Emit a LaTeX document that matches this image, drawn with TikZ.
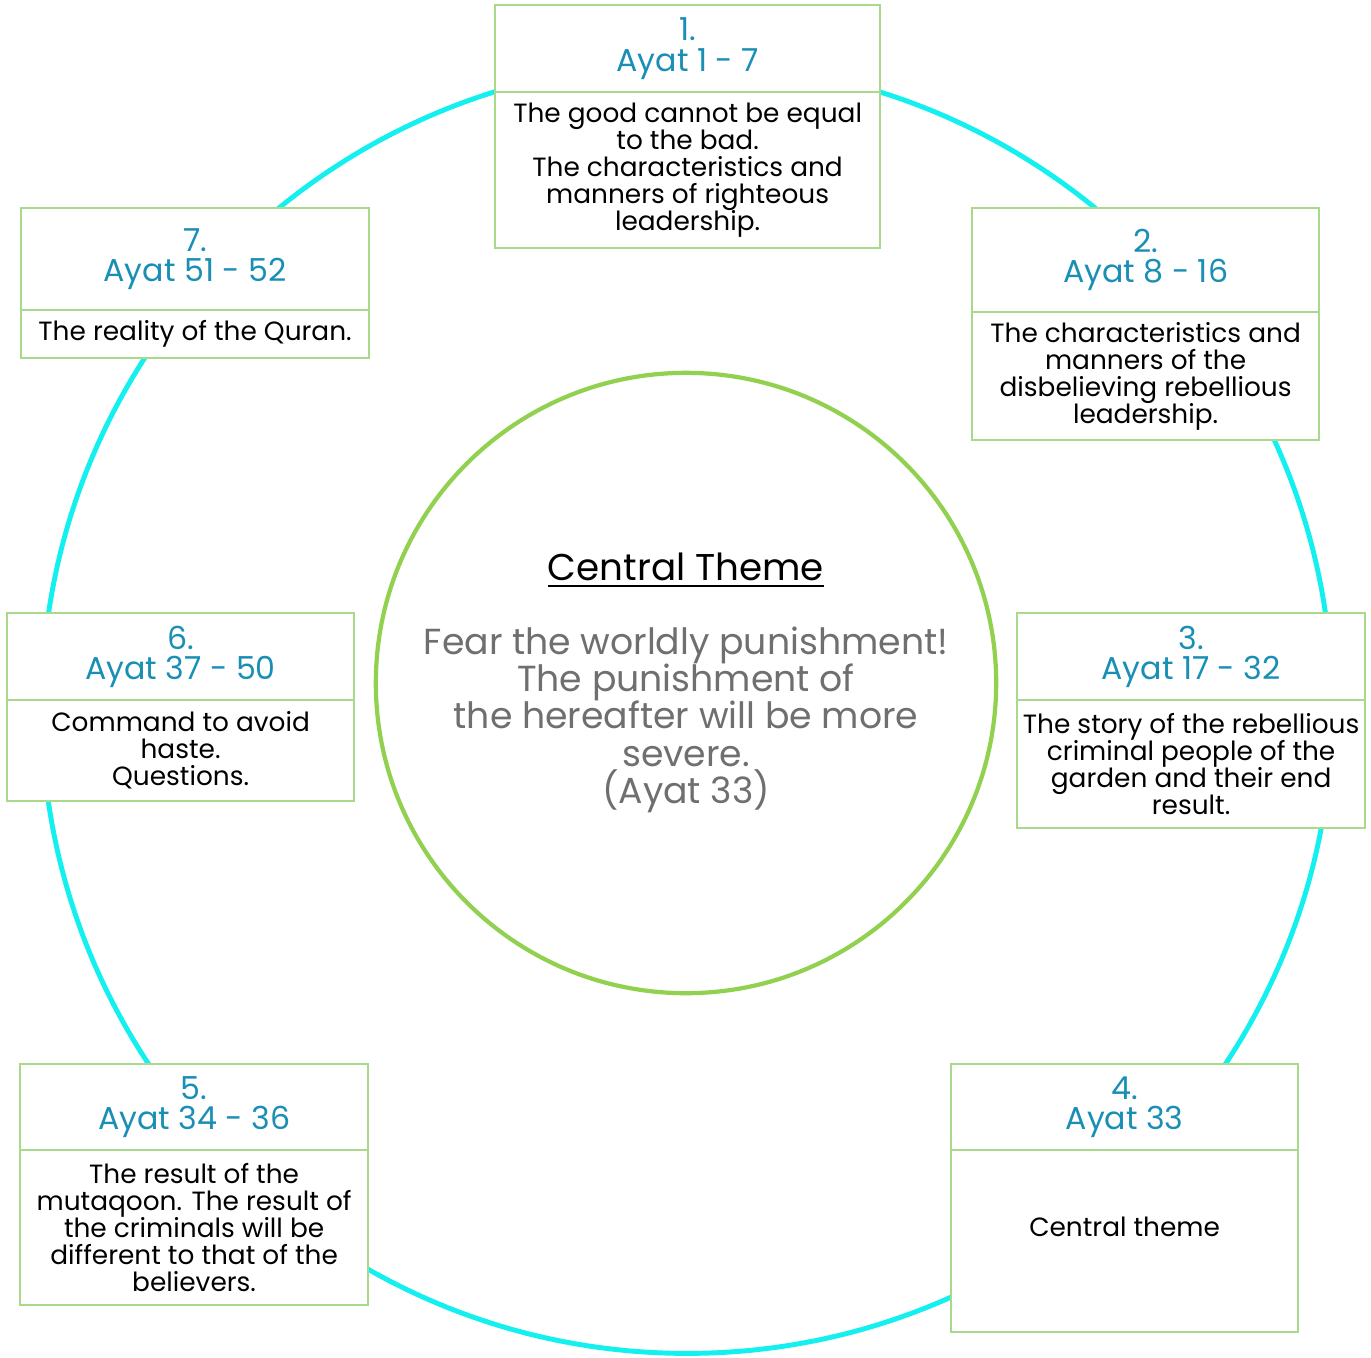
\documentclass[tikz,border=0pt]{standalone}
\usepackage{fontspec}
\setmainfont{Poppins}
\usepackage{xcolor}
\usetikzlibrary{positioning}
\definecolor{ringcyan}{HTML}{14F0F0}
\definecolor{themegreen}{HTML}{92D050}
\definecolor{boxgreen}{HTML}{A9D98B}
\definecolor{titleblue}{HTML}{1A8FB5}
\definecolor{themegray}{HTML}{6F6F6F}
\setlength{\lineskiplimit}{-100pt}

\begin{document}
\begin{tikzpicture}[
    x=0.01cm, y=-0.01cm,
    every node/.style={inner sep=0pt, outer sep=0pt},
    titlebox/.style={
        draw=boxgreen, fill=white, line width=0.6pt, minimum width=#1,
        align=center, text=titleblue, font=\fontsize{9}{8.6}\selectfont
    },
    bodybox/.style={
        draw=boxgreen, fill=white, line width=0.6pt, minimum width=#1,
        align=center, text=black, font=\fontsize{7.5}{7.7}\selectfont
    },
    ring/.style={draw=ringcyan, line width=1.4pt},
    theme/.style={
        circle, draw=themegreen, line width=1.2pt, minimum size=6.2cm,
        align=center, text=themegray, font=\fontsize{10.3}{10.6}\selectfont
    }
]
\useasboundingbox (0,0) rectangle (1371,1357);

% Outer ring
\draw[ring] (687,708) circle[radius=6.45cm];

% Central theme
\node[theme] (core) at (686,683) {
    {\color{black}\fontsize{10.6}{12}\selectfont\underline{Central Theme}}\\[0.36cm]
    Fear the worldly punishment!\\
    The punishment of\\
    the hereafter will be more\\
    severe.\\
    (Ayat 33)
};

% Box 1
\node[titlebox=3.85cm, minimum height=0.87cm, anchor=north west] (t1) at (495,5) {1.\\Ayat 1 - 7};
\node[bodybox=3.85cm, minimum height=1.56cm, below=0pt of t1] (b1) {
    The good cannot be equal\\
    to the bad.\\
    The characteristics and\\
    manners of righteous\\
    leadership.
};

% Box 2
\node[titlebox=3.47cm, minimum height=1.04cm, anchor=north west] (t2) at (972,208) {2.\\Ayat 8 - 16};
\node[bodybox=3.47cm, minimum height=1.28cm, below=0pt of t2] (b2) {
    The characteristics and\\
    manners of the\\
    disbelieving rebellious\\
    leadership.
};

% Box 3
\node[titlebox=3.48cm, minimum height=0.87cm, anchor=north west] (t3) at (1017,613) {3.\\Ayat 17 - 32};
\node[bodybox=3.48cm, minimum height=1.28cm, below=0pt of t3] (b3) {
    The story of the rebellious\\
    criminal people of the\\
    garden and their end\\
    result.
};

% Box 4
\node[titlebox=3.47cm, minimum height=0.86cm, anchor=north west] (t4) at (951,1064) {4.\\Ayat 33};
\node[bodybox=3.47cm, minimum height=1.82cm, text depth=0.28cm, below=0pt of t4] (b4) {Central theme};

% Box 5
\node[titlebox=3.48cm, minimum height=0.86cm, anchor=north west] (t5) at (20,1064) {5.\\Ayat 34 - 36};
\node[bodybox=3.48cm, minimum height=1.55cm, below=0pt of t5] (b5) {
    The result of the\\
    mutaqoon. The result of\\
    the criminals will be\\
    different to that of the\\
    believers.
};

% Box 6
\node[titlebox=3.47cm, minimum height=0.87cm, anchor=north west] (t6) at (7,613) {6.\\Ayat 37 - 50};
\node[bodybox=3.47cm, minimum height=1.01cm, below=0pt of t6] (b6) {
    Command to avoid\\
    haste.\\
    Questions.
};

% Box 7
\node[titlebox=3.48cm, minimum height=1.02cm, anchor=north west] (t7) at (21,208) {7.\\Ayat 51 - 52};
\node[bodybox=3.48cm, minimum height=0.48cm, below=0pt of t7] (b7) {The reality of the Quran.};

\end{tikzpicture}
\end{document}
